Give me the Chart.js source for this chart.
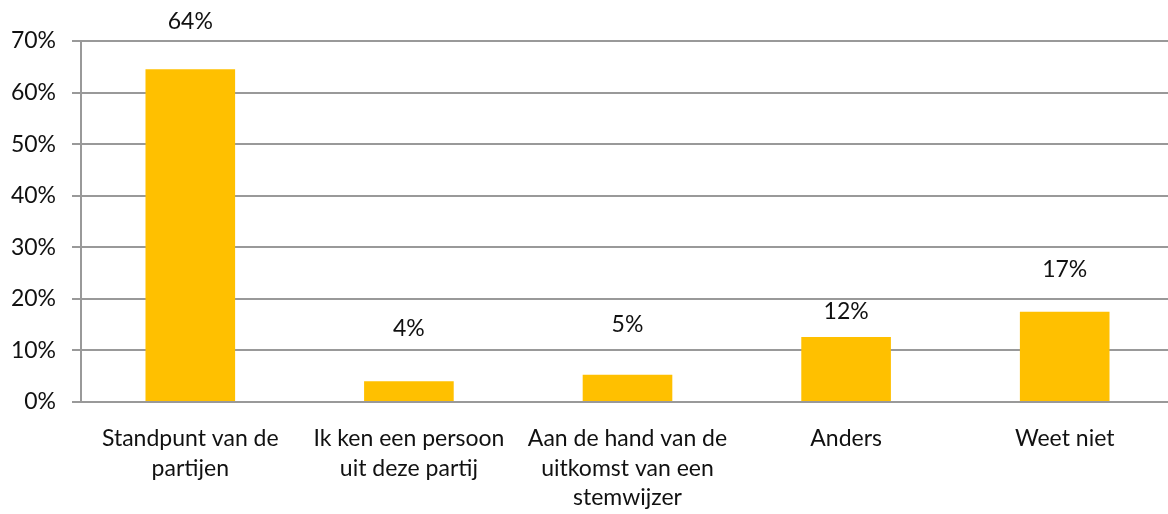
<!DOCTYPE html>
<html>
<head>
<meta charset="utf-8">
<script src="https://cdn.jsdelivr.net/npm/chart.js@4.4.1/dist/chart.umd.min.js"></script>
<style>
  html, body { margin: 0; padding: 0; background: #fff; overflow: hidden; }
  #wrap { width: 1174px; height: 514px; }
</style>
</head>
<body>
<div id="wrap"><canvas id="chart" width="1174" height="514"></canvas></div>
<script>
const categories = [
  ['Standpunt van de', 'partijen'],
  ['Ik ken een persoon', 'uit deze partij'],
  ['Aan de hand van de', 'uitkomst van een', 'stemwijzer'],
  'Anders',
  'Weet niet'
];
const values = [64.5, 4.0, 5.3, 12.6, 17.5];
const valueLabels = ['64%', '4%', '5%', '12%', '17%'];
const yTicks = [0, 10, 20, 30, 40, 50, 60, 70];

const FONT = 'Lato, "Open Sans", sans-serif';

// label above each bar, distance in px from the bar top (as placed in the original)
const labelPlugin = {
  id: 'barLabels',
  afterDatasetsDraw(chart, args, opts) {
    const ctx = chart.ctx;
    const meta = chart.getDatasetMeta(0);
    ctx.save();
    ctx.font = opts.font;
    ctx.fillStyle = opts.color;
    ctx.textAlign = 'center';
    ctx.textBaseline = 'middle';
    meta.data.forEach((bar, i) => {
      ctx.fillText(valueLabels[i], bar.x, bar.y - opts.offsets[i]);
    });
    ctx.restore();
  }
};

const ctx = document.getElementById('chart').getContext('2d');
new Chart(ctx, {
  type: 'bar',
  data: {
    labels: categories,
    datasets: [{
      data: values,
      backgroundColor: '#FFC000',
      borderWidth: 0,
      barPercentage: 0.41,
      categoryPercentage: 1
    }]
  },
  options: {
    responsive: false,
    animation: false,
    layout: { padding: { top: 41, left: 0, right: 0, bottom: 0 } },
    plugins: {
      legend: { display: false },
      tooltip: { enabled: false },
      barLabels: {
        font: '23px ' + FONT,
        color: '#111',
        offsets: [48, 53, 50, 25, 42]
      }
    },
    scales: {
      x: {
        grid: { display: false, drawTicks: false },
        border: { color: '#999', width: 2 },
        ticks: {
          color: '#111',
          font: { family: FONT, size: 23, lineHeight: 1.28 },
          padding: 22,
          maxRotation: 0,
          autoSkip: false
        },
        afterFit(scale) { scale.height = 112; }
      },
      y: {
        min: 0,
        max: 70,
        afterBuildTicks(scale) { scale.ticks = yTicks.map(v => ({ value: v })); },
        grid: { color: '#999', lineWidth: 2, tickLength: 9 },
        border: { color: '#999', width: 2 },
        ticks: {
          color: '#111',
          font: { family: FONT, size: 23 },
          padding: 16,
          callback: v => v + '%'
        },
        afterFit(scale) { scale.width = 81; }
      }
    }
  },
  plugins: [labelPlugin]
});
</script>
</body>
</html>
